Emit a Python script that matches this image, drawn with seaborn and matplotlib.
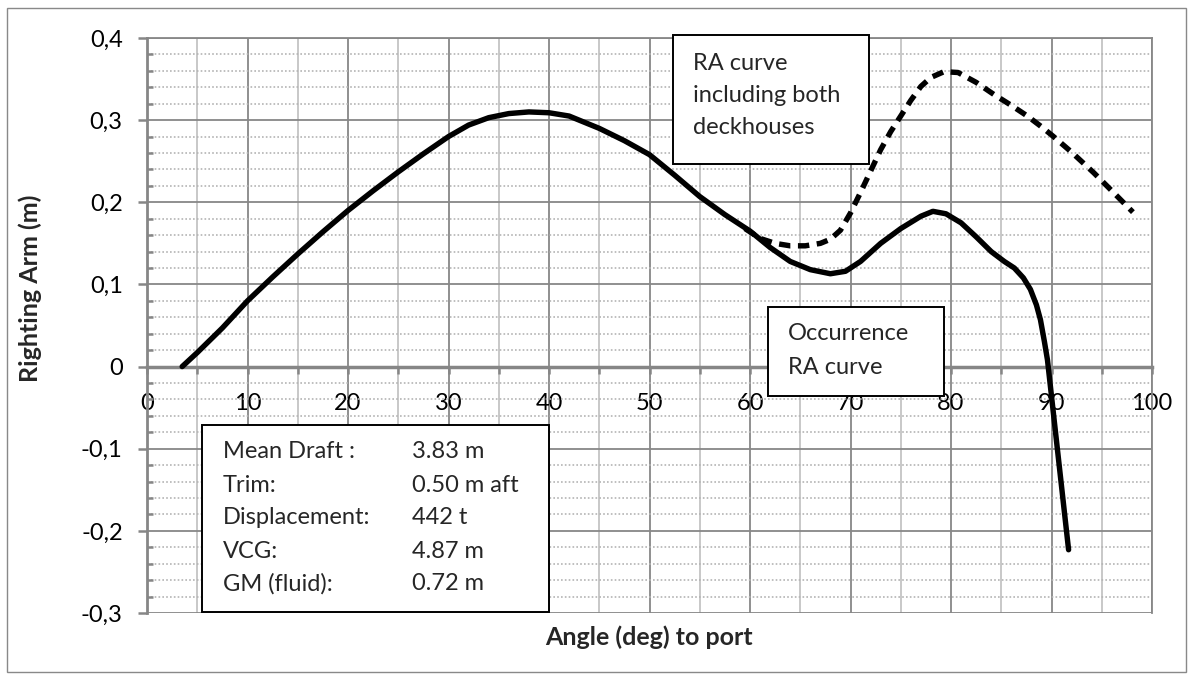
import matplotlib
matplotlib.use("Agg")
import matplotlib.pyplot as plt
from matplotlib.patches import Rectangle
from matplotlib.ticker import MultipleLocator, FixedLocator
import seaborn as sns

# --- data ---
occ_angle = [3.5, 5, 7.5, 10, 12.5, 15, 17.5, 20, 22.5, 25, 27.5, 30, 32, 34, 36, 38, 40,
             42, 45, 47.5, 50, 52.5, 55, 57.5, 60, 62, 64, 66, 68, 69.5, 71, 73, 75, 77,
             78.2, 79.5, 81, 82.5, 84, 85.3, 86.3, 87.2, 87.9, 88.5, 88.9, 89.3, 89.6, 91.7]
occ_ra = [0.000, 0.017, 0.047, 0.080, 0.109, 0.137, 0.164, 0.190, 0.214, 0.237, 0.259,
          0.280, 0.294, 0.303, 0.308, 0.310, 0.309, 0.305, 0.290, 0.275, 0.258, 0.233,
          0.207, 0.185, 0.165, 0.145, 0.128, 0.118, 0.113, 0.116, 0.128, 0.150, 0.168,
          0.183, 0.189, 0.186, 0.175, 0.158, 0.140, 0.128, 0.120, 0.108, 0.094, 0.075,
          0.057, 0.030, 0.008, -0.223]

deck_angle = [59.5, 61, 62.5, 64, 65.5, 67, 68, 69, 70, 71, 72, 73, 74, 75, 76, 77, 78,
              79.3, 80.7, 82.5, 84.3, 86, 87.6, 89, 90.2, 92, 94.2, 96, 98.1]
deck_ra = [0.168, 0.156, 0.150, 0.147, 0.147, 0.150, 0.155, 0.166, 0.187, 0.212, 0.238,
           0.264, 0.286, 0.305, 0.324, 0.341, 0.352, 0.359, 0.358, 0.346, 0.331, 0.318,
           0.305, 0.292, 0.280, 0.261, 0.236, 0.214, 0.188]

x_ticks = [0, 10, 20, 30, 40, 50, 60, 70, 80, 90, 100]
x_tick_labels = ["0", "10", "20", "30", "40", "50", "60", "70", "80", "90", "100"]
y_ticks = [-0.3, -0.2, -0.1, 0.0, 0.1, 0.2, 0.3, 0.4]
y_tick_labels = ["-0,3", "-0,2", "-0,1", "0", "0,1", "0,2", "0,3", "0,4"]

info_labels = ["Mean Draft :", "Trim:", "Displacement:", "VCG:", "GM (fluid):"]
info_values = ["3.83 m", "0.50 m aft", "442 t", "4.87 m", "0.72 m"]

W, H = 1193, 679


def fx(px):
    return px / W


def fy(py):
    return 1 - py / H


sns.set_theme(style="white")
plt.rcParams["font.family"] = ["Lato", "DejaVu Sans"]

fig = plt.figure(figsize=(W / 100, H / 100), dpi=100)
ax = fig.add_axes([fx(147), fy(613), fx(1152) - fx(147), fy(38) - fy(613)])

sns.lineplot(x=occ_angle, y=occ_ra, ax=ax, color="black", lw=3.9, estimator=None,
             sort=False, solid_capstyle="round", solid_joinstyle="round", zorder=5)
sns.lineplot(x=deck_angle, y=deck_ra, ax=ax, color="black", lw=3.9, estimator=None,
             sort=False, linestyle=(0, (2.1, 1.4)), zorder=5)

ax.set_xlim(0, 100)
ax.set_ylim(-0.3, 0.4)
ax.xaxis.set_major_locator(FixedLocator(x_ticks))
ax.set_xticklabels(x_tick_labels)
ax.xaxis.set_minor_locator(MultipleLocator(5))
ax.yaxis.set_major_locator(FixedLocator(y_ticks))
ax.set_yticklabels(y_tick_labels)
ax.yaxis.set_minor_locator(MultipleLocator(0.02))

# grid
ax.grid(which="major", color="#878787", lw=1.3)
ax.xaxis.grid(which="minor", color="#c4c4c4", lw=1.3, ls="-")
ax.yaxis.grid(which="minor", color="#b4b4b4", lw=1.2, ls=(0, (1, 1.3)))
ax.set_axisbelow(True)

# spines
for s in ["top", "right"]:
    ax.spines[s].set_color("#878787")
    ax.spines[s].set_linewidth(1.3)
ax.spines["left"].set_color("#868686")
ax.spines["left"].set_linewidth(2)
ax.spines["bottom"].set_position(("data", 0))
ax.spines["bottom"].set_color("#868686")
ax.spines["bottom"].set_linewidth(2.5)
ax.spines["bottom"].set_zorder(3)

ax.tick_params(axis="x", which="both", direction="out", length=5, width=1.8,
               color="#868686", bottom=True, pad=14, labelsize=17, labelcolor="black")
ax.tick_params(axis="y", which="major", direction="out", length=6.5, width=1.8,
               color="#868686", left=True, pad=11, labelsize=17, labelcolor="black")
ax.tick_params(axis="y", which="minor", direction="in", length=4.5, width=1.8,
               color="#868686", left=True)

# axis titles
fig.text(fx(649), fy(637), "Angle (deg) to port", ha="center", va="center",
         fontsize=18, fontweight="bold")
fig.text(fx(30), fy(288), "Righting Arm (m)", ha="center", va="center",
         rotation=90, fontsize=18, fontweight="bold")

# annotation boxes
def box(x0, y0, x1, y1):
    fig.add_artist(Rectangle((fx(x0), fy(y1)), fx(x1) - fx(x0), fy(y0) - fy(y1),
                             transform=fig.transFigure, facecolor="white",
                             edgecolor="black", lw=1.4, zorder=10))


box(673, 35, 869, 164)
for i, line in enumerate(["RA curve", "including both", "deckhouses"]):
    fig.text(fx(693), fy(63 + 32 * i), line, ha="left", va="center", fontsize=17, zorder=11)

box(768, 307, 944, 396)
for i, line in enumerate(["Occurrence", "RA curve"]):
    fig.text(fx(788), fy(333 + 34 * i), line, ha="left", va="center", fontsize=17, zorder=11)

box(202, 425, 549, 612)
for i, (lab, val) in enumerate(zip(info_labels, info_values)):
    fig.text(fx(223), fy(452 + 33 * i), lab, ha="left", va="center", fontsize=17, zorder=11)
    fig.text(fx(412), fy(452 + 33 * i), val, ha="left", va="center", fontsize=17, zorder=11)

# outer chart border
fig.add_artist(Rectangle((fx(7), fy(672)), fx(1186) - fx(7), fy(8) - fy(672),
                         transform=fig.transFigure, facecolor="none",
                         edgecolor="#898989", lw=1.0))

fig.savefig("out.png", dpi=100)
